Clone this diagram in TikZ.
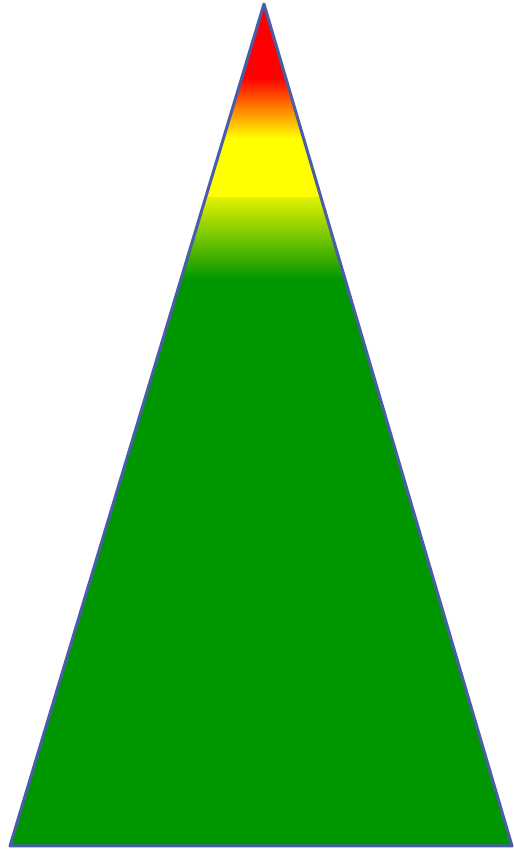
\documentclass[tikz,border=0pt]{standalone}
\usepackage{tikz}
\usetikzlibrary{calc}
\definecolor{Flame}{HTML}{FF0000}
\definecolor{Ember}{HTML}{FF8000}
\definecolor{Sun}{HTML}{FFFF00}
\definecolor{Lime}{HTML}{E2F200}
\definecolor{Leaf}{HTML}{009600}
\definecolor{Rim}{HTML}{4A5DA8}

\begin{document}
\begin{tikzpicture}[x=1pt, y=1pt]
    \useasboundingbox (0,0) rectangle (514,852);
    \coordinate (apex) at (264,848);
    \coordinate (left) at (10,6);
    \coordinate (right) at (512,6);
    % colour bands, cut to the triangle
    \begin{scope}
      \clip (apex) -- (left) -- (right) -- cycle;
      \fill[Leaf] (0,0) rectangle (514,572);
      \shade[top color=Lime, bottom color=Leaf] (0,572) rectangle (514,655);
      \fill[Sun] (0,655) rectangle (514,714);
      \shade[top color=Flame, middle color=Ember, bottom color=Sun] (0,714) rectangle (514,774);
      \fill[Flame] (0,774) rectangle (514,852);
    \end{scope}
    \draw[Rim, line width=3pt, line join=round] (apex) -- (left) -- (right) -- cycle;
  \end{tikzpicture}
\end{document}
